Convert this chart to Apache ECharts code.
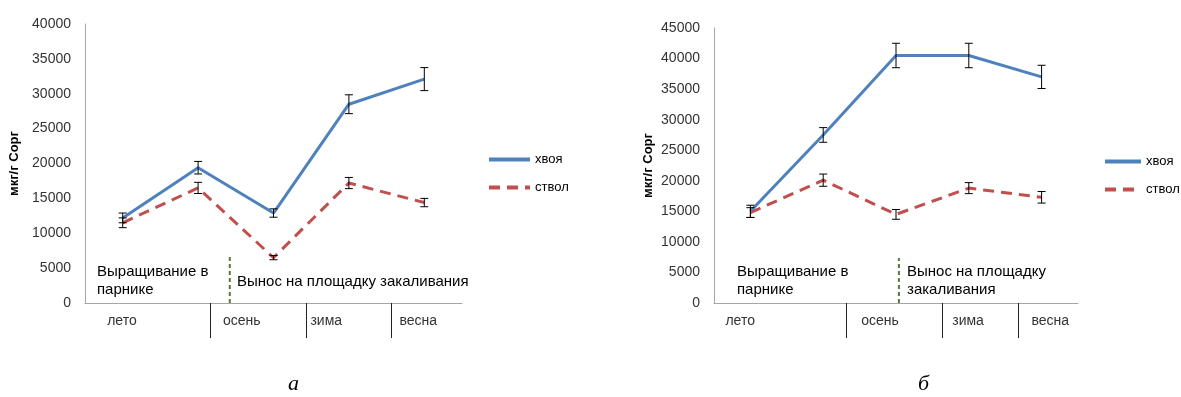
<!DOCTYPE html>
<html><head><meta charset="utf-8">
<script src="https://cdn.jsdelivr.net/npm/echarts@6/dist/echarts.min.js"></script>
<style>html,body{margin:0;padding:0;background:#fff}#c{width:1181px;height:397px}</style>
</head><body><div id="c"></div>
<script>
// ---- data ----
const points = ['1','2','3','4','5'];
const seasons = ['лето','осень','зима','весна'];
// chart а
const hvoyaA = [12200, 19400, 12900, 28500, 32100];
const hvoyaAErr = [700, 900, 600, 1350, 1650];
const stvolA = [11500, 16500, 6500, 17200, 14400];
const stvolAErr = [700, 800, 300, 800, 600];
const seasonBoundsA = [1.66, 2.93, 4.06];
const seasonLabelPosA = [0.49, 2.08, 3.2, 4.42];
const dividerA = [1.92, 6600];
// chart б
const hvoyaB = [15000, 27500, 40500, 40500, 37000];
const hvoyaBErr = [1000, 1200, 2000, 2000, 1900];
const stvolB = [14800, 20100, 14500, 18800, 17300];
const stvolBErr = [800, 1000, 800, 900, 950];
const seasonBoundsB = [1.82, 3.13, 4.18];
const seasonLabelPosB = [0.36, 2.28, 3.49, 4.62];
const dividerB = [2.54, 7360];
const yTicksA = [0, 40000, 5000];
const yTicksB = [0, 45000, 5000];

const BLUE = '#4f81bd', RED = '#c0504d', AXIS = '#a6a6a6', TXT = '#333';
const FONT = 'Liberation Sans';

function errData(v, e){ return v.map((x,i)=>[i, x-e[i], x+e[i]]); }
function errSeries(v, e, xi, yi){
  return {type:'custom', xAxisIndex:xi, yAxisIndex:yi, silent:true, z:5,
    data: errData(v,e),
    renderItem(params, api){
      const lo = api.coord([api.value(0), api.value(1)]);
      const hi = api.coord([api.value(0), api.value(2)]);
      const x = lo[0], w = 4;
      return {type:'group', children:[
        {type:'line', shape:{x1:x,y1:lo[1],x2:x,y2:hi[1]}, style:{stroke:'#000',lineWidth:1}},
        {type:'line', shape:{x1:x-w,y1:lo[1],x2:x+w,y2:lo[1]}, style:{stroke:'#000',lineWidth:1}},
        {type:'line', shape:{x1:x-w,y1:hi[1],x2:x+w,y2:hi[1]}, style:{stroke:'#000',lineWidth:1}}
      ]};
    }};
}
function dividerSeries(d, xi, yi){
  return {type:'custom', xAxisIndex:xi, yAxisIndex:yi, silent:true,
    data:[[d[0], 0, d[1]]],
    renderItem(params, api){
      const a = api.coord([api.value(0), api.value(1)]);
      const b = api.coord([api.value(0), api.value(2)]);
      return {type:'line', shape:{x1:a[0],y1:a[1],x2:b[0],y2:b[1]},
        style:{stroke:'#5a7a3a', lineWidth:2, lineDash:[4,3]}};
    }};
}
function catAxis(gi){
  return {type:'category', gridIndex:gi, data:points, boundaryGap:true,
    axisLine:{show:true, lineStyle:{color:AXIS, width:1}},
    axisTick:{show:false}, axisLabel:{show:false}, splitLine:{show:false}};
}
function seasonAxis(gi, bounds, labelPos){
  return {type:'value', gridIndex:gi, min:0, max:5, position:'bottom',
    axisLine:{show:false}, splitLine:{show:false},
    axisTick:{show:true, customValues:bounds, length:35, inside:false, lineStyle:{color:'#222', width:1}},
    axisLabel:{show:true, customValues:labelPos, margin:11, color:TXT, fontSize:14, fontFamily:FONT,
      formatter:(v)=>{ let best=0; labelPos.forEach((p,i)=>{ if(Math.abs(p-v)<Math.abs(labelPos[best]-v)) best=i; }); return seasons[best]; }}};
}
function valAxis(gi, t, gap){
  return {type:'value', gridIndex:gi, min:t[0], max:t[1], interval:t[2],
    name:'мкг/г Сорг', nameLocation:'middle', nameGap:gap, nameRotate:90,
    nameTextStyle:{fontSize:13, fontWeight:'bold', color:'#000', fontFamily:FONT},
    axisLine:{show:true, lineStyle:{color:AXIS, width:1}},
    axisTick:{show:false}, splitLine:{show:false},
    axisLabel:{color:TXT, fontSize:14, fontFamily:FONT, margin:14, formatter:(v)=>String(v)}};
}
function lineSeries(name, v, xi, yi, color, dashed){
  return {type:'line', name, xAxisIndex:xi, yAxisIndex:yi, data:v, symbol:'none', z:3,
    lineStyle:{color, width:3, type: dashed ? [11,7] : 'solid'}, itemStyle:{color}};
}
const legendCommon = {orient:'vertical', padding:0, itemHeight:14, itemGap:15,
  itemStyle:{opacity:0}, lineStyle:{width:4},
  textStyle:{fontSize:13, color:'#000', fontFamily:FONT}, data:['хвоя','ствол']};

const chart = echarts.init(document.getElementById('c'), null, {renderer:'canvas'});
chart.setOption({
  animation:false,
  grid:[
    {left:85, top:24, width:377, height:279},
    {left:714, top:28, width:364, height:275}
  ],
  xAxis:[catAxis(0), seasonAxis(0, seasonBoundsA, seasonLabelPosA), catAxis(1), seasonAxis(1, seasonBoundsB, seasonLabelPosB)],
  yAxis:[valAxis(0, yTicksA, 64), valAxis(1, yTicksB, 59)],
  legend:[
    Object.assign({}, legendCommon, {left:487, top:153, itemWidth:41}),
    Object.assign({}, legendCommon, {left:1103, top:155, itemWidth:36})
  ],
  series:[
    lineSeries('хвоя', hvoyaA, 0, 0, BLUE, false),
    lineSeries('ствол', stvolA, 0, 0, RED, true),
    errSeries(hvoyaA, hvoyaAErr, 0, 0),
    errSeries(stvolA, stvolAErr, 0, 0),
    dividerSeries(dividerA, 1, 0),
    lineSeries('хвоя', hvoyaB, 2, 1, BLUE, false),
    lineSeries('ствол', stvolB, 2, 1, RED, true),
    errSeries(hvoyaB, hvoyaBErr, 2, 1),
    errSeries(stvolB, stvolBErr, 2, 1),
    dividerSeries(dividerB, 3, 1)
  ],
  graphic:[
    {type:'text', left:97, top:263, style:{text:'Выращивание в\nпарнике', font:'15px "Liberation Sans"', fill:'#000', lineHeight:18}},
    {type:'text', left:237, top:274, style:{text:'Вынос на площадку закаливания', font:'15px "Liberation Sans"', fill:'#000'}},
    {type:'text', left:737, top:263, style:{text:'Выращивание в\nпарнике', font:'15px "Liberation Sans"', fill:'#000', lineHeight:18}},
    {type:'text', left:907, top:263, style:{text:'Вынос на площадку\nзакаливания', font:'15px "Liberation Sans"', fill:'#000', lineHeight:18}},
    {type:'text', left:288, top:373, style:{text:'а', font:'italic 22px "Liberation Serif"', fill:'#000'}},
    {type:'text', left:918, top:373, style:{text:'б', font:'italic 22px "Liberation Serif"', fill:'#000'}}
  ]
});
</script></body></html>
